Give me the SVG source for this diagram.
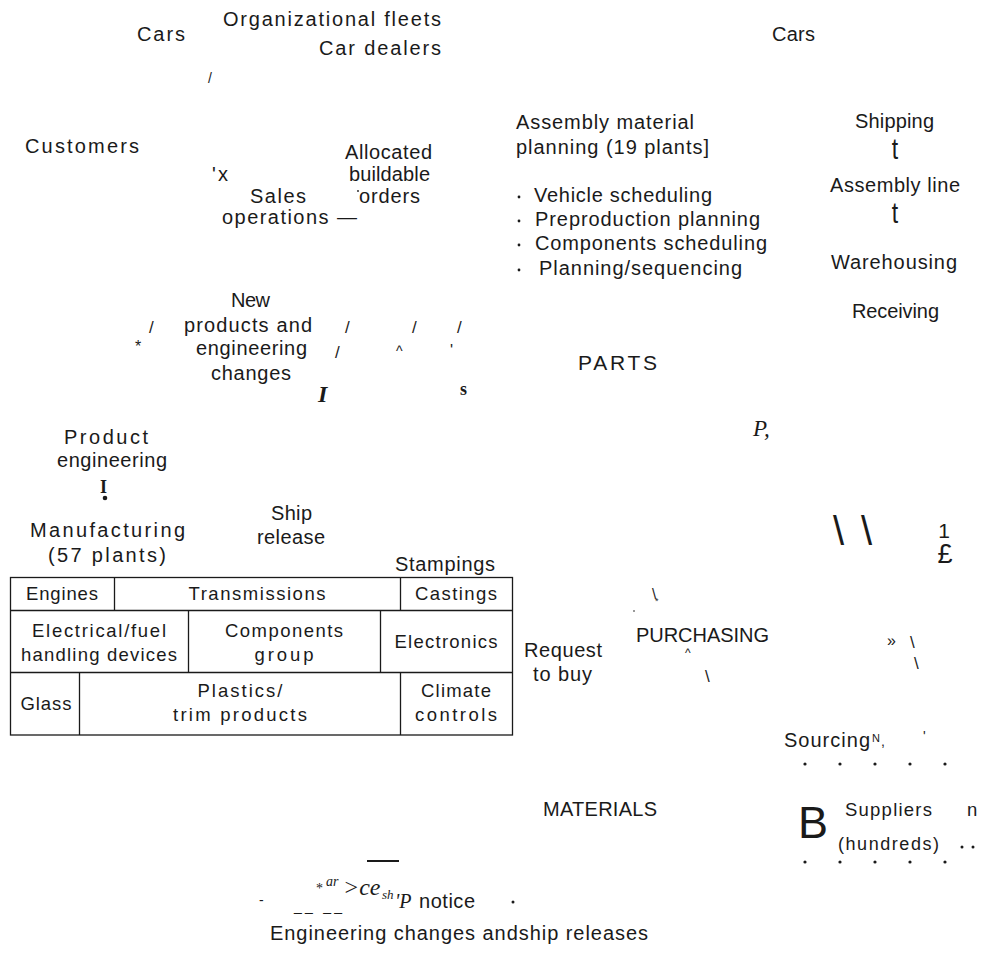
<svg xmlns="http://www.w3.org/2000/svg" width="982" height="953" viewBox="0 0 982 953">
<style>
  .s { font-family: "Liberation Sans", Arial, sans-serif; font-size: 20px; fill: #1a1a1a; }
  .m { font-family: "Liberation Sans", Arial, sans-serif; font-size: 18.5px; fill: #1a1a1a; }
  .sm { font-family: "Liberation Sans", Arial, sans-serif; font-size: 14px; fill: #1a1a1a; }
  .c { text-anchor: middle; }
  .serif { font-family: "Liberation Serif", "Times New Roman", serif; fill: #1a1a1a; }
  .cell { fill: none; stroke: #1a1a1a; stroke-width: 1.3; }
  .dot { fill: #1a1a1a; }
</style>
<rect width="982" height="953" fill="#ffffff"/>

<g id="customers">
  <text class="s" x="137" y="41" textLength="48" lengthAdjust="spacing">Cars</text>
  <text class="s" x="223" y="26" textLength="218" lengthAdjust="spacing">Organizational fleets</text>
  <text class="s" x="319" y="55" textLength="122" lengthAdjust="spacing">Car dealers</text>
  <text class="s" x="25" y="153" textLength="114" lengthAdjust="spacing">Customers</text>
</g>

<g id="sales-operations">
  <text class="s" x="345" y="159" textLength="87" lengthAdjust="spacing">Allocated</text>
  <text class="s" x="349" y="181" textLength="81" lengthAdjust="spacing">buildable</text>
  <circle class="dot" cx="358" cy="191" r="0.9"/>
  <text class="s" x="359" y="203" textLength="61" lengthAdjust="spacing">orders</text>
  <text class="s" x="250" y="203" textLength="56" lengthAdjust="spacing">Sales</text>
  <text class="s" x="222" y="224" textLength="135" lengthAdjust="spacing">operations —</text>
</g>

<g id="assembly-planning">
  <text class="s" x="516" y="129" textLength="178" lengthAdjust="spacing">Assembly material</text>
  <text class="s" x="516" y="154" textLength="193" lengthAdjust="spacing">planning (19 plants]</text>
  <circle class="dot" cx="519" cy="197" r="1.4"/>
  <text class="s" x="534" y="202" textLength="178" lengthAdjust="spacing">Vehicle scheduling</text>
  <circle class="dot" cx="519" cy="221" r="1.4"/>
  <text class="s" x="535" y="226" textLength="225" lengthAdjust="spacing">Preproduction planning</text>
  <circle class="dot" cx="519" cy="245" r="1.4"/>
  <text class="s" x="535" y="250" textLength="232" lengthAdjust="spacing">Components scheduling</text>
  <circle class="dot" cx="519" cy="270" r="1.4"/>
  <text class="s" x="539" y="275" textLength="203" lengthAdjust="spacing">Planning/sequencing</text>
</g>

<g id="assembly-plant">
  <text class="s" x="772" y="41" textLength="43" lengthAdjust="spacing">Cars</text>
  <text class="s" x="855" y="128" textLength="79" lengthAdjust="spacing">Shipping</text>
  <text class="s" x="830" y="192" textLength="130" lengthAdjust="spacing">Assembly line</text>
  <text class="s" x="831" y="269" textLength="126" lengthAdjust="spacing">Warehousing</text>
  <text class="s" x="852" y="318" textLength="87" lengthAdjust="spacing">Receiving</text>
</g>

<g id="new-products">
  <text class="s" x="231" y="307" textLength="39" lengthAdjust="spacing">New</text>
  <text class="s" x="184" y="332" textLength="128" lengthAdjust="spacing">products and</text>
  <text class="s" x="196" y="355" textLength="111" lengthAdjust="spacing">engineering</text>
  <text class="s" x="211" y="380" textLength="80" lengthAdjust="spacing">changes</text>
</g>

<g id="parts">
  <text class="s" x="578" y="370" style="font-size:21px" textLength="79" lengthAdjust="spacing">PARTS</text>
</g>

<g id="product-engineering">
  <text class="s" x="64" y="444" textLength="84" lengthAdjust="spacing">Product</text>
  <text class="s" x="57" y="467" textLength="110" lengthAdjust="spacing">engineering</text>
</g>

<g id="ship-release">
  <text class="s" x="271" y="520" textLength="41" lengthAdjust="spacing">Ship</text>
  <text class="s" x="257" y="544" textLength="68" lengthAdjust="spacing">release</text>
</g>

<g id="manufacturing">
  <text class="s" x="30" y="537" textLength="155" lengthAdjust="spacing">Manufacturing</text>
  <text class="s" x="48" y="562" textLength="118" lengthAdjust="spacing">(57 plants)</text>
  <text class="s" x="395" y="571" textLength="100" lengthAdjust="spacing">Stampings</text>
  <rect class="cell" x="10.5" y="577.5" width="502" height="157.5"/>
  <line class="cell" x1="10.5" y1="610.5" x2="512.5" y2="610.5"/>
  <line class="cell" x1="10.5" y1="672.5" x2="512.5" y2="672.5"/>
  <line class="cell" x1="114.5" y1="577.5" x2="114.5" y2="610.5"/>
  <line class="cell" x1="400.5" y1="577.5" x2="400.5" y2="610.5"/>
  <line class="cell" x1="188.5" y1="610.5" x2="188.5" y2="672.5"/>
  <line class="cell" x1="380.5" y1="610.5" x2="380.5" y2="672.5"/>
  <line class="cell" x1="79.5" y1="672.5" x2="79.5" y2="735"/>
  <line class="cell" x1="400.5" y1="672.5" x2="400.5" y2="735"/>
  <text class="m c" x="62" y="600" textLength="72" lengthAdjust="spacing">Engines</text>
  <text class="m c" x="257" y="600" textLength="137" lengthAdjust="spacing">Transmissions</text>
  <text class="m c" x="456" y="600" textLength="82" lengthAdjust="spacing">Castings</text>
  <text class="m c" x="99" y="637" textLength="134" lengthAdjust="spacing">Electrical/fuel</text>
  <text class="m c" x="99" y="661" textLength="156" lengthAdjust="spacing">handling devices</text>
  <text class="m c" x="284" y="637" textLength="118" lengthAdjust="spacing">Components</text>
  <text class="m c" x="284" y="661" textLength="59" lengthAdjust="spacing">group</text>
  <text class="m c" x="446" y="648" textLength="103" lengthAdjust="spacing">Electronics</text>
  <text class="m c" x="46" y="710" textLength="51" lengthAdjust="spacing">Glass</text>
  <text class="m c" x="240" y="697" textLength="85" lengthAdjust="spacing">Plastics/</text>
  <text class="m c" x="240" y="721" textLength="134" lengthAdjust="spacing">trim products</text>
  <text class="m c" x="456" y="697" textLength="70" lengthAdjust="spacing">Climate</text>
  <text class="m c" x="456" y="721" textLength="82" lengthAdjust="spacing">controls</text>
</g>

<g id="purchasing">
  <text class="s" x="636" y="642" textLength="133" lengthAdjust="spacing">PURCHASING</text>
  <text class="s" x="524" y="657" textLength="78" lengthAdjust="spacing">Request</text>
  <text class="s" x="533" y="681" textLength="59" lengthAdjust="spacing">to buy</text>
</g>

<g id="sourcing">
  <text class="s" x="784" y="747" textLength="86" lengthAdjust="spacing">Sourcing</text>
  <text class="sm" x="872" y="742" style="font-size:11px">N</text>
  <text class="sm" x="881" y="746">,</text>
</g>

<g id="materials">
  <text class="s" x="543" y="816" textLength="114" lengthAdjust="spacing">MATERIALS</text>
</g>

<g id="suppliers">
  <text class="s" x="798" y="838" style="font-size:45px">B</text>
  <text class="s" x="845" y="816" style="font-size:18.5px" textLength="87" lengthAdjust="spacing">Suppliers</text>
  <text class="s" x="967" y="816" style="font-size:18.5px">n</text>
  <text class="s" x="838" y="850" style="font-size:18px" textLength="101" lengthAdjust="spacing">(hundreds)</text>
  <circle class="dot" cx="962" cy="847" r="1.5"/>
  <circle class="dot" cx="973" cy="847" r="1.5"/>
</g>

<g id="notice">
  <line x1="367" y1="861" x2="399" y2="861" stroke="#1a1a1a" stroke-width="2"/>
  <text class="sm" x="259" y="905">-</text>
  <text class="sm" x="294" y="911" textLength="48" lengthAdjust="spacing">__ __</text>
  <text class="serif" x="316" y="893" style="font-size:14px">*</text>
  <text class="serif" x="326" y="886" style="font-size:14px;font-style:italic">ar</text>
  <text class="serif" x="343" y="895" style="font-size:24px;font-style:italic">&gt;ce</text>
  <text class="serif" x="382" y="899" style="font-size:13px;font-style:italic">sh</text>
  <text class="serif" x="395" y="908" style="font-size:20px;font-style:italic">'P</text>
  <text class="s" x="419" y="908" textLength="56" lengthAdjust="spacing">notice</text>
  <circle class="dot" cx="513" cy="902" r="1.5"/>
  <text class="s" x="270" y="940" textLength="378" lengthAdjust="spacing">Engineering changes andship releases</text>
</g>

<g id="connectors">
  <text class="sm" x="208" y="83">/</text>
  <text class="s" x="212" y="181" textLength="16" lengthAdjust="spacing">'x</text>
  <text class="s c" transform="translate(895,159) scale(1,1.3)" x="0" y="0" style="font-size:23px">t</text>
  <text class="s c" transform="translate(895,223) scale(1,1.3)" x="0" y="0" style="font-size:23px">t</text>
  <text class="sm" x="149" y="333" style="font-size:17px">/</text>
  <text class="sm" x="135" y="352" style="font-size:16px">*</text>
  <text class="sm" x="345" y="333" style="font-size:17px">/</text>
  <text class="sm" x="412" y="333" style="font-size:17px">/</text>
  <text class="sm" x="457" y="333" style="font-size:17px">/</text>
  <text class="sm" x="335" y="358" style="font-size:17px">/</text>
  <text class="sm" x="396" y="356" style="font-size:14px">^</text>
  <text class="sm" x="450" y="356" style="font-size:16px">'</text>
  <text class="serif" x="318" y="402" style="font-size:24px;font-weight:bold;font-style:italic">I</text>
  <text class="serif" x="460" y="395" style="font-size:18px;font-weight:bold">s</text>
  <text class="serif" x="753" y="436" style="font-size:23px;font-style:italic">P,</text>
  <text class="serif" x="100" y="493" style="font-size:18px;font-weight:bold">I</text>
  <circle class="dot" cx="105" cy="498" r="2.3"/>
  <text class="s" x="833" y="545" style="font-size:40px">\</text>
  <text class="s" x="861" y="545" style="font-size:40px">\</text>
  <text class="s c" x="944" y="538" style="font-size:21px">1</text>
  <text class="s c" x="945" y="563" style="font-size:27px">£</text>
  <text class="sm" x="652" y="599" style="font-size:15px">\</text>
  <text class="sm" x="655" y="604" style="font-size:9px">*</text>
  <circle class="dot" cx="634" cy="611" r="0.8"/>
  <text class="sm" x="685" y="657" style="font-size:12px">^</text>
  <text class="sm" x="705" y="682" style="font-size:17px">\</text>
  <text class="sm" x="887" y="646" style="font-size:16px">»</text>
  <text class="sm" x="910" y="648" style="font-size:17px">\</text>
  <text class="sm" x="914" y="669" style="font-size:17px">\</text>
  <text class="sm" x="923" y="741" style="font-size:14px">'</text>
  <circle class="dot" cx="805" cy="764" r="1.6"/>
  <circle class="dot" cx="840" cy="764" r="1.6"/>
  <circle class="dot" cx="875" cy="764" r="1.6"/>
  <circle class="dot" cx="910" cy="764" r="1.6"/>
  <circle class="dot" cx="945" cy="764" r="1.6"/>
  <circle class="dot" cx="805" cy="862" r="1.6"/>
  <circle class="dot" cx="840" cy="862" r="1.6"/>
  <circle class="dot" cx="875" cy="862" r="1.6"/>
  <circle class="dot" cx="910" cy="862" r="1.6"/>
  <circle class="dot" cx="945" cy="862" r="1.6"/>
</g>
</svg>
